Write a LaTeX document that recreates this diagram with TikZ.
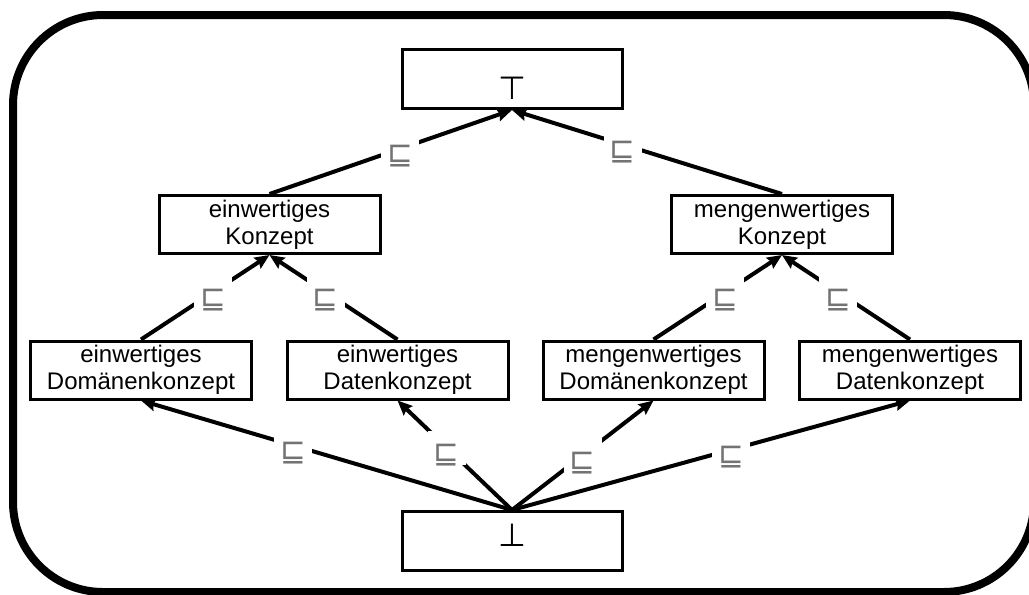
\documentclass[tikz,border=0pt]{standalone}
\usepackage{fontspec}
\setmainfont{Liberation Sans}
\newfontfamily\symfont{DejaVu Sans}
\usetikzlibrary{arrows.meta}
\begin{document}
\begin{tikzpicture}[x=0.75pt,y=-0.75pt,
  conbox/.style={draw=black, line width=2.25pt, minimum width=165.75pt, minimum height=43.5pt,
    inner sep=0pt, align=center, font=\fontsize{18pt}{20.25pt}\selectfont},
  termbox/.style={draw=black, line width=2.25pt, minimum width=165pt, minimum height=44.25pt, inner sep=0pt},
  termsym/.style={font=\symfont\fontsize{24pt}{26pt}\selectfont, inner sep=0pt},
  sub/.style={-{Stealth[length=11pt,width=9.5pt,inset=1.5pt]}, line width=3pt, black},
  rel/.style={fill=white, inner sep=0pt, minimum width=28.5pt, minimum height=25.5pt,
    text height=24pt, text depth=0pt, text=black!55,
    font=\symfont\fontsize{23pt}{25pt}\selectfont}
]
\useasboundingbox (0,0) rectangle (1029,594);
\clip (0,0) rectangle (1029,594);
\draw[line width=6pt, rounded corners=67.5pt] (13,15) rectangle (1034,592);

\node[termbox, label={[termsym, yshift=-6.75pt]center:⊤}] (top) at (512,79) {};
\node[conbox] (ek) at (269.5,224.5) {einwertiges\\Konzept};
\node[conbox] (mk) at (782,224.5) {mengenwertiges\\Konzept};
\node[conbox] (b1) at (141,370) {einwertiges\\Domänenkonzept};
\node[conbox] (b2) at (397.5,370) {einwertiges\\Datenkonzept};
\node[conbox] (b3) at (653.5,370) {mengenwertiges\\Domänenkonzept};
\node[conbox] (b4) at (910,370) {mengenwertiges\\Datenkonzept};
\node[termbox, label={[termsym, yshift=4.5pt]center:⊥}] (bot) at (512,541) {};

\draw[sub] (ek.north) -- node[rel, pos=0.54] {⊑} (top.south);
\draw[sub] (mk.north) -- node[rel, pos=0.59] {⊑} (top.south);
\draw[sub] (b1.north) -- node[rel, pos=0.56] {⊑} (ek.south);
\draw[sub] (b2.north) -- node[rel, pos=0.56] {⊑} (ek.south);
\draw[sub] (b3.north) -- node[rel, pos=0.56] {⊑} (mk.south);
\draw[sub] (b4.north) -- node[rel, pos=0.56] {⊑} (mk.south);
\draw[sub] (bot.north) -- node[rel, pos=0.59] {⊑} (b1.south);
\draw[sub] (bot.north) -- node[rel, pos=0.57] {⊑} (b2.south);
\draw[sub] (bot.north) -- node[rel, pos=0.5] {⊑} (b3.south);
\draw[sub] (bot.north) -- node[rel, pos=0.55] {⊑} (b4.south);
\end{tikzpicture}
\end{document}
